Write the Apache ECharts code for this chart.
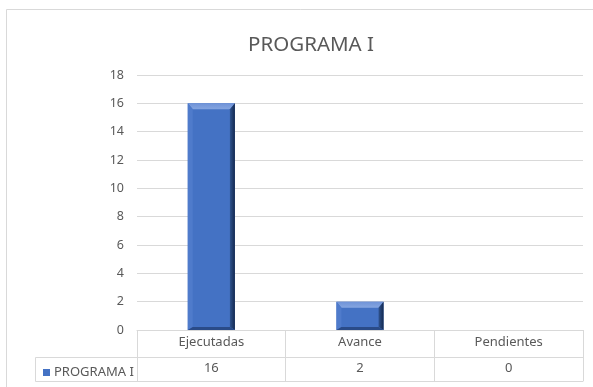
<!DOCTYPE html>
<html>
<head>
<meta charset="utf-8">
<script src="https://cdn.jsdelivr.net/npm/echarts@6/dist/echarts.min.js"></script>
<style>
  html, body { margin: 0; padding: 0; background: #ffffff; }
  #chart { width: 593px; height: 387px; }
</style>
</head>
<body>
<div id="chart"></div>
<script>
// Chart data
const chartTitle = 'PROGRAMA I';
const seriesName = 'PROGRAMA I';
const categories = ['Ejecutadas', 'Avance', 'Pendientes'];
const values = [16, 2, 0];
const yTicks = { min: 0, max: 18, interval: 2 };

const FONT = '"Noto Sans", "Open Sans", sans-serif';
const TEXT = '#595959';
const LINE = '#D9D9D9';
const FACE = '#4472C4';

// Bevelled column drawn from the data value via the axis scales
function bevelBar(params, api) {
  const idx = api.value(0);
  const val = api.value(1);
  if (!val) return null;
  const top = api.coord([idx, val]);
  const base = api.coord([idx, 0]);
  const w = api.size([1, 0])[0] * 0.317;
  const x0 = top[0] - w / 2, x1 = top[0] + w / 2;
  const y0 = top[1], y1 = base[1];
  const b = Math.min(6, (y1 - y0) / 3);
  const s = 5;
  return {
    type: 'group',
    children: [
      { type: 'rect', shape: { x: x0, y: y0, width: w, height: y1 - y0 },
        style: { fill: FACE } },
      // top bevel
      { type: 'polygon', shape: { points: [[x0, y0], [x1, y0], [x1 - s, y0 + b], [x0 + s, y0 + b]] },
        style: { fill: new echarts.graphic.LinearGradient(0, 0, 0, 1, [
          { offset: 0, color: '#6F93D8' }, { offset: 1, color: '#85A5E0' }]) } },
      // left bevel
      { type: 'polygon', shape: { points: [[x0, y0], [x0 + s, y0 + b], [x0 + s, y1 - 3], [x0, y1]] },
        style: { fill: '#4F7BCB' } },
      // right bevel
      { type: 'polygon', shape: { points: [[x1, y0], [x1, y1], [x1 - s, y1 - 3], [x1 - s, y0 + b]] },
        style: { fill: new echarts.graphic.LinearGradient(0, 0, 1, 0, [
          { offset: 0, color: '#2F538F' }, { offset: 1, color: '#14294F' }]) } },
      // bottom bevel
      { type: 'polygon', shape: { points: [[x0, y1], [x0 + s, y1 - 3], [x1 - s, y1 - 3], [x1, y1]] },
        style: { fill: '#2A4B88' } }
    ]
  };
}

const chart = echarts.init(document.getElementById('chart'), null, { renderer: 'canvas' });

chart.setOption({
  backgroundColor: '#ffffff',
  animation: false,
  title: {
    text: chartTitle,
    left: 306, top: 30, textAlign: 'center',
    textStyle: { fontFamily: FONT, fontSize: 20.5, fontWeight: 'normal', color: TEXT }
  },
  legend: {
    data: [{ name: seriesName, icon: 'rect' }],
    left: 38, top: 361,
    itemWidth: 7, itemHeight: 7, itemGap: 4,
    textStyle: { fontFamily: FONT, fontSize: 13, color: TEXT, padding: [0, 0, 0, -1] },
    selectedMode: false
  },
  grid: { left: 137, right: 10, top: 75, bottom: 57 },
  xAxis: [
    {
      type: 'category', data: categories, position: 'bottom',
      axisLine: { show: true, lineStyle: { color: LINE, width: 1 } },
      axisTick: { show: true, length: 51, lineStyle: { color: LINE } },
      axisLabel: { margin: 6, fontFamily: FONT, fontSize: 13, color: TEXT }
    },
    {
      type: 'category', data: values.map(String), position: 'bottom', offset: 27,
      axisLine: { show: true, lineStyle: { color: LINE, width: 1 } },
      axisTick: { show: false },
      axisLabel: { margin: 5, fontFamily: FONT, fontSize: 13, color: TEXT }
    },
    {
      type: 'category', data: categories, position: 'bottom', offset: 51,
      axisLine: { show: true, lineStyle: { color: LINE, width: 1 } },
      axisTick: { show: false },
      axisLabel: { show: false }
    }
  ],
  yAxis: {
    type: 'value', min: yTicks.min, max: yTicks.max, interval: yTicks.interval,
    axisLine: { show: false }, axisTick: { show: false },
    axisLabel: { margin: 13, fontFamily: FONT, fontSize: 12.5, color: TEXT },
    splitLine: { lineStyle: { color: LINE, width: 1 } }
  },
  series: [{
    name: seriesName,
    type: 'custom',
    xAxisIndex: 0,
    itemStyle: { color: FACE },
    data: values.map((v, i) => [i, v]),
    encode: { x: 0, y: 1 },
    renderItem: bevelBar
  }],
  graphic: [
    // chart frame
    { type: 'rect', shape: { x: 6.5, y: 9.5, width: 620, height: 420 },
      style: { fill: null, stroke: LINE, lineWidth: 1 }, silent: true },
    // legend cell of the data table
    { type: 'rect', shape: { x: 35.5, y: 357.5, width: 102, height: 24 },
      style: { fill: null, stroke: LINE, lineWidth: 1 }, silent: true, z: 10 }
  ]
});
</script>
</body>
</html>
